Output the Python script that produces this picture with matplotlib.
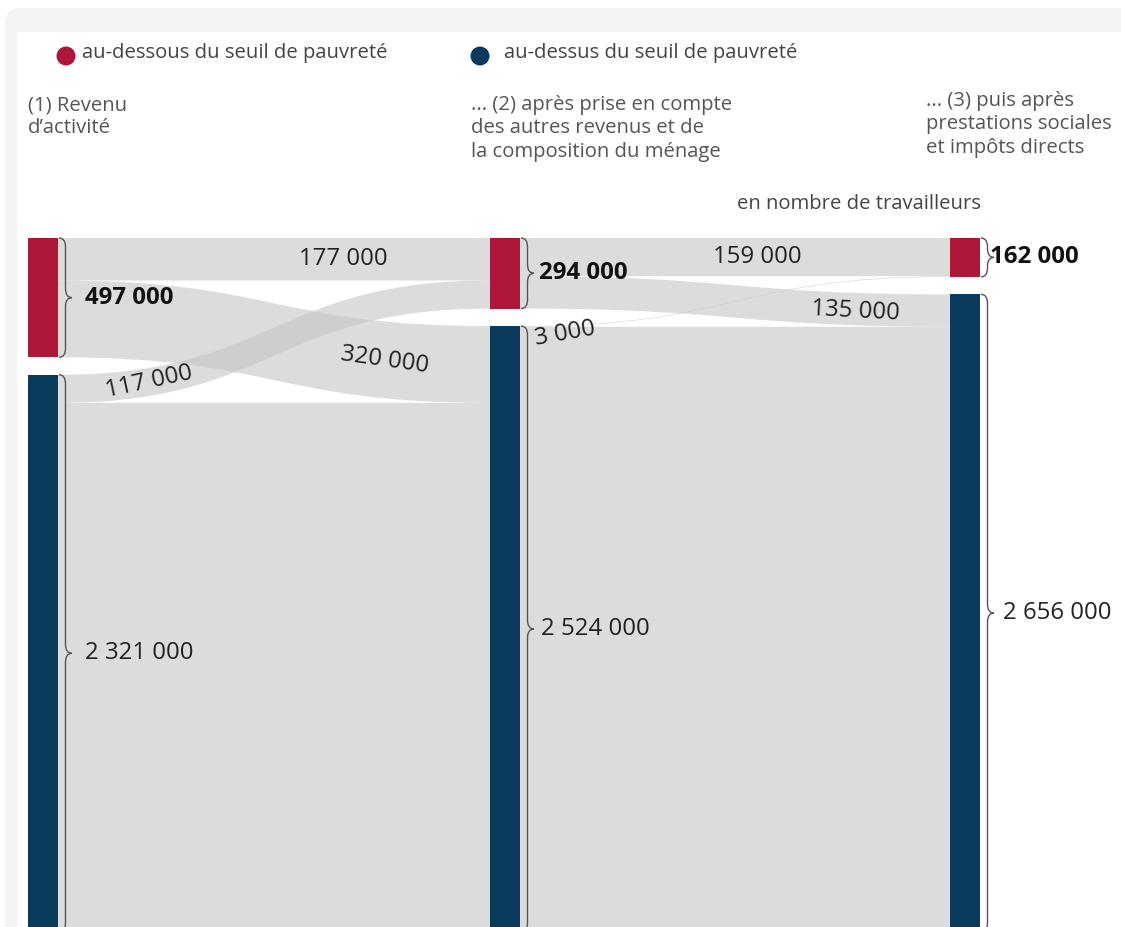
import matplotlib.pyplot as plt
import numpy as np
from matplotlib.path import Path
from matplotlib.patches import PathPatch, FancyBboxPatch, Rectangle, Circle

plt.rcParams['font.family'] = ['Open Sans', 'DejaVu Sans']

# data (milliers de travailleurs)
stages = ["(1) Revenu\nd\u2019activité",
          "... (2) après prise en compte\ndes autres revenus et de\nla composition du ménage",
          "... (3) puis après\nprestations sociales\net impôts directs"]
groups = ["au-dessous du seuil de pauvreté", "au-dessus du seuil de pauvreté"]
below = [497, 294, 162]
above = [2321, 2524, 2656]

# flows: stage of origin, group of origin -> group of arrival, value
flow_stage = [0, 0, 0, 0, 1, 1, 1, 1]
flow_src = [0, 0, 1, 1, 0, 0, 1, 1]
flow_dst = [0, 1, 0, 1, 0, 1, 0, 1]
flow_val = [177, 320, 117, 2204, 159, 135, 3, 2521]
flow_show = [True, True, True, False, True, True, True, False]

# layout
W, H = 1121, 927
col_x = [28, 490, 950]
bar_w = 30
top_px = 238
scale = 0.24          # px per thousand
gap = 17.5 / scale    # gap between the two bars, data units
red = '#AE1738'
blue = '#0A3A5C'
flow_col = '#c6c6c6'

# label placement along each flow (fraction of the way, pixel offset, rotation)
lab_frac = [0.66, 0.757, 0.21, 0, 0.553, 0.78, 0.105, 0]
lab_dy = [0, 0, 0, 0, 0, 2, 8, 0]
lab_rot = [0, -8, 12, 0, 0, -3, 10, 0]
node_lab_dx = [[27, 19, 10], [27, 21, 23]]


def fmt(v):
    return f"{v * 1000:,}".replace(",", " ")


fig = plt.figure(figsize=(W / 100, H / 100), dpi=100)

# background frame in pixel coordinates
bg = fig.add_axes([0, 0, 1, 1], zorder=0)
bg.set_xlim(0, W)
bg.set_ylim(H, 0)
bg.axis('off')
bg.add_patch(FancyBboxPatch((5, 8), W + 60, H + 60,
                            boxstyle="round,pad=0,rounding_size=16",
                            fc='#f4f4f4', ec='none'))
bg.add_patch(Rectangle((17, 32), W + 60, H + 60, fc='white', ec='none'))

# legend
for cx, dx, col, lab in [(66, 16, red, groups[0]), (480, 24, blue, groups[1])]:
    bg.add_patch(Circle((cx, 56), 9.5, fc=col, ec='none'))
    bg.text(cx + dx, 53, lab, fontsize=14.6, color='#444',
            va='center', ha='left')

# stage headers
head_x = [28, 471, 926]
head_y = [95, 95, 91]
for i, t in enumerate(stages):
    bg.text(head_x[i], head_y[i], t, fontsize=14.6, color='#555',
            va='top', ha='left', linespacing=1.22)
bg.text(859, 204, "en nombre de travailleurs", fontsize=14.6, color='#444',
        ha='center', va='center')

# main sankey axes: x in px, y in thousands (0 = top of bars)
ax = fig.add_axes([0, 0, 1, 1], zorder=1)
ax.patch.set_alpha(0)
ax.set_xlim(0, W)
ax.set_ylim((H - top_px) / scale, -top_px / scale)
ax.axis('off')

tops = [[0, 0, 0], [b + gap for b in below]]
vals = [below, above]

# flows
out_off = [[0, 0] for _ in range(3)]
in_off = [[0, 0] for _ in range(3)]
for k in range(len(flow_val)):
    st, s, d, v = flow_stage[k], flow_src[k], flow_dst[k], flow_val[k]
    s0 = tops[s][st] + out_off[st][s]
    t0 = tops[d][st + 1] + in_off[st + 1][d]
    out_off[st][s] += v
    in_off[st + 1][d] += v
    xs = col_x[st] + bar_w
    xt = col_x[st + 1]
    xm = (xs + xt) / 2
    verts = [(xs, s0), (xm, s0), (xm, t0), (xt, t0), (xt, t0 + v),
             (xm, t0 + v), (xm, s0 + v), (xs, s0 + v), (xs, s0)]
    codes = [Path.MOVETO, Path.CURVE4, Path.CURVE4, Path.CURVE4, Path.LINETO,
             Path.CURVE4, Path.CURVE4, Path.CURVE4, Path.CLOSEPOLY]
    ax.add_patch(PathPatch(Path(verts, codes), fc=flow_col, ec='none',
                           alpha=0.6, zorder=1))
    if flow_show[k]:
        t = np.linspace(0, 1, 400)
        bx = (1 - t) ** 3 * xs + 3 * (1 - t) ** 2 * t * xm + 3 * (1 - t) * t ** 2 * xm + t ** 3 * xt
        yc0, yc1 = s0 + v / 2, t0 + v / 2
        by = (1 - t) ** 3 * yc0 + 3 * (1 - t) ** 2 * t * yc0 + 3 * (1 - t) * t ** 2 * yc1 + t ** 3 * yc1
        lx = xs + lab_frac[k] * (xt - xs)
        ly = np.interp(lx, bx, by) + lab_dy[k] / scale
        ax.text(lx, ly, fmt(v), fontsize=17.3, color='#222', ha='center',
                va='center', rotation=lab_rot[k], rotation_mode='anchor', zorder=4)

# bars
for g, col in enumerate([red, blue]):
    ax.bar(col_x, vals[g], bottom=tops[g], width=bar_w, align='edge',
           color=col, zorder=3)


def brace(x0, y0, y1, w):
    r = min(9 / scale, (y1 - y0) / 4)
    ym = (y0 + y1) / 2
    xh = x0 + w / 2
    verts = [(x0, y0), (xh, y0), (xh, y0 + r), (xh, ym - r), (xh, ym), (x0 + w, ym),
             (xh, ym), (xh, ym + r), (xh, y1 - r), (xh, y1), (x0, y1)]
    codes = [Path.MOVETO, Path.CURVE3, Path.CURVE3, Path.LINETO, Path.CURVE3, Path.CURVE3,
             Path.CURVE3, Path.CURVE3, Path.LINETO, Path.CURVE3, Path.CURVE3]
    ax.add_patch(PathPatch(Path(verts, codes), fc='none', ec='#555', lw=1.0, zorder=4))


for g in range(2):
    for i in range(3):
        x0 = col_x[i] + bar_w + 1
        y0, y1 = tops[g][i], tops[g][i] + vals[g][i]
        brace(x0, y0, y1, 13)
        ax.text(col_x[i] + bar_w + node_lab_dx[g][i], (y0 + y1) / 2, fmt(vals[g][i]),
                fontsize=17.3, color='#111' if g == 0 else '#222',
                fontweight='bold' if g == 0 else 'normal',
                ha='left', va='center', zorder=4)

fig.savefig('out.png', dpi=100)
